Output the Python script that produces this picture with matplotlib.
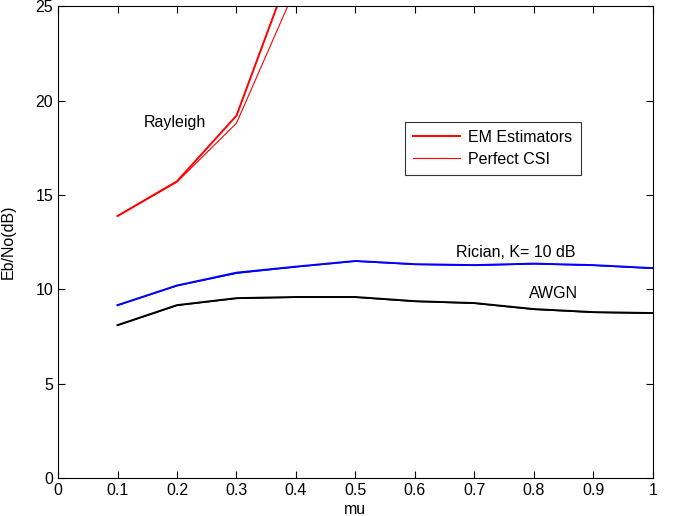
import matplotlib
matplotlib.use("Agg")
import matplotlib.pyplot as plt

plt.rcParams['font.family'] = ['Liberation Sans', 'DejaVu Sans']
plt.rcParams['font.size'] = 11.5

mu = [0.1, 0.2, 0.3, 0.4, 0.5, 0.6, 0.7, 0.8, 0.9, 1.0]
mu_ray = [0.1, 0.2, 0.3, 0.4]

ray_em = [13.88, 15.72, 19.2, 27.7]
ray_csi = [13.88, 15.68, 18.8, 26.0]

rician_em = [9.16, 10.2, 10.88, 11.2, 11.5, 11.33, 11.28, 11.36, 11.28, 11.12]
rician_csi = [9.14, 10.18, 10.84, 11.18, 11.48, 11.31, 11.26, 11.34, 11.26, 11.1]

awgn_em = [8.1, 9.16, 9.53, 9.59, 9.59, 9.37, 9.27, 8.95, 8.79, 8.74]
awgn_csi = [8.08, 9.14, 9.51, 9.57, 9.57, 9.35, 9.25, 8.93, 8.77, 8.72]

fig = plt.figure(figsize=(6.73, 5.16), dpi=100)
ax = fig.add_axes([0.0862, 0.0736, 0.884, 0.9145])

ax.plot(mu_ray, ray_em, color='red', linewidth=1.4, label='EM Estimators')
ax.plot(mu_ray, ray_csi, color='red', linewidth=0.8, label='Perfect CSI')
ax.plot(mu, rician_em, color='blue', linewidth=1.4)
ax.plot(mu, rician_csi, color='blue', linewidth=0.8)
ax.plot(mu, awgn_em, color='black', linewidth=1.4)
ax.plot(mu, awgn_csi, color='black', linewidth=0.8)

ax.text(0.197, 18.86, 'Rayleigh', ha='center', va='center')
ax.text(0.77, 11.97, 'Rician, K= 10 dB', ha='center', va='center')
ax.text(0.832, 9.8, 'AWGN', ha='center', va='center')

ax.set_xlim(0, 1)
ax.set_ylim(0, 25)
ax.set_xticks([0, 0.1, 0.2, 0.3, 0.4, 0.5, 0.6, 0.7, 0.8, 0.9, 1])
ax.set_xticklabels(['0', '0.1', '0.2', '0.3', '0.4', '0.5', '0.6', '0.7', '0.8', '0.9', '1'])
ax.set_yticks([0, 5, 10, 15, 20, 25])
ax.tick_params(direction='in', top=True, right=True, length=5, width=0.8)
ax.set_xlabel('mu', labelpad=3)
ax.set_ylabel('Eb/No(dB)', labelpad=14)

leg = ax.legend(loc='upper left', bbox_to_anchor=(0.569, 0.772), frameon=True,
                fancybox=False, edgecolor='black', handlelength=3.0,
                handletextpad=0.5, borderpad=0.5, labelspacing=0.45)
leg.get_frame().set_linewidth(0.8)

fig.savefig('out.png', dpi=100)
